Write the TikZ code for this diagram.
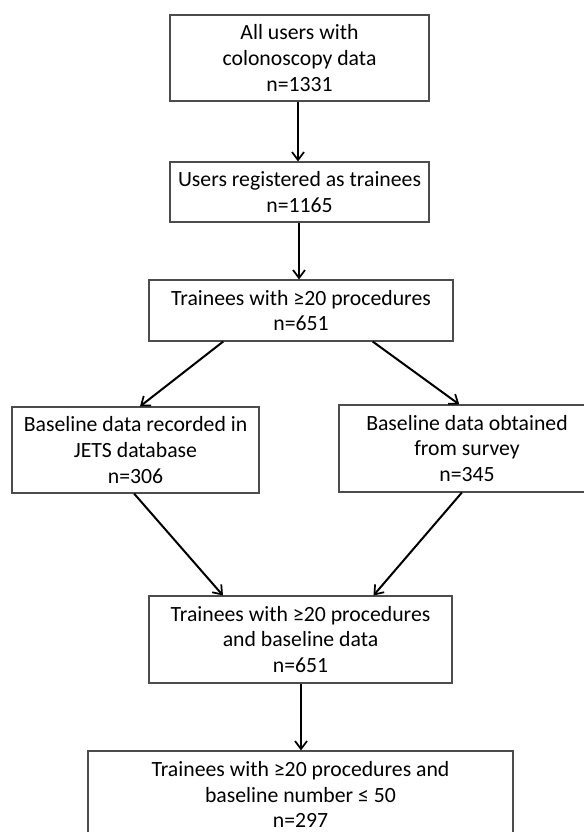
\documentclass[tikz,border=0pt]{standalone}
\usepackage{fontspec}
\setmainfont{Carlito}
\usetikzlibrary{arrows.meta,calc}
\tikzset{
  box/.style={draw=black!70, line width=0.8pt, fill=white, inner sep=0pt, align=center,
    font=\fontsize{16.3}{19.2}\selectfont},
  arr/.style={line width=1.5pt, -{Straight Barb[length=6pt,width=9pt,line width=1.3pt]}}
}
\begin{document}
\begin{tikzpicture}[x=0.75pt,y=-0.75pt]
\useasboundingbox (0,0) rectangle (584,832);
\clip (0,0) rectangle (584,832);
\node[box, minimum width={259*0.75pt}, minimum height={86*0.75pt}] (b1) at (299.5,58)
  {All users with\\colonoscopy data\\n=1331};
\node[box, minimum width={259*0.75pt}, minimum height={60*0.75pt}] (b2) at (299.5,192)
  {Users registered as trainees\\n=1165};
\node[box, minimum width={304*0.75pt}, minimum height={61*0.75pt}] (b3) at (301,310.5)
  {Trainees with ≥20 procedures\\n=651};
\node[box, minimum width={247*0.75pt}, minimum height={86*0.75pt}] (b4) at (135.5,450)
  {Baseline data recorded in\\JETS database\\n=306};
\node[box, minimum width={256*0.75pt}, minimum height={87*0.75pt}] (b5) at (467,448.5)
  {Baseline data obtained\\from survey\\n=345};
\node[box, minimum width={303*0.75pt}, minimum height={87*0.75pt}] (b6) at (300.5,639.5)
  {Trainees with ≥20 procedures\\and baseline data\\n=651};
\node[box, minimum width={425*0.75pt}, minimum height={87*0.75pt}] (b7) at (300.5,794.5)
  {Trainees with ≥20 procedures and\\baseline number ≤ 50\\n=297};
\draw[arr] (b1.south -| 298,0) -- (b2.north -| 298,0);
\draw[arr] (b2.south -| 299,0) -- (b3.north -| 299,0);
\draw[arr] ($(b3.south west)!0.245!(b3.south east)$) -- ($(b4.north west)!0.518!(b4.north east)$);
\draw[arr] ($(b3.south west)!0.735!(b3.south east)$) -- ($(b5.north west)!0.47!(b5.north east)$);
\draw[arr] ($(b4.south west)!0.494!(b4.south east)$) -- ($(b6.north west)!0.245!(b6.north east)$);
\draw[arr] ($(b5.south west)!0.48!(b5.south east)$) -- ($(b6.north west)!0.740!(b6.north east)$);
\draw[arr] (b6.south -| 301,0) -- (b7.north -| 301,0);
\end{tikzpicture}
\end{document}
